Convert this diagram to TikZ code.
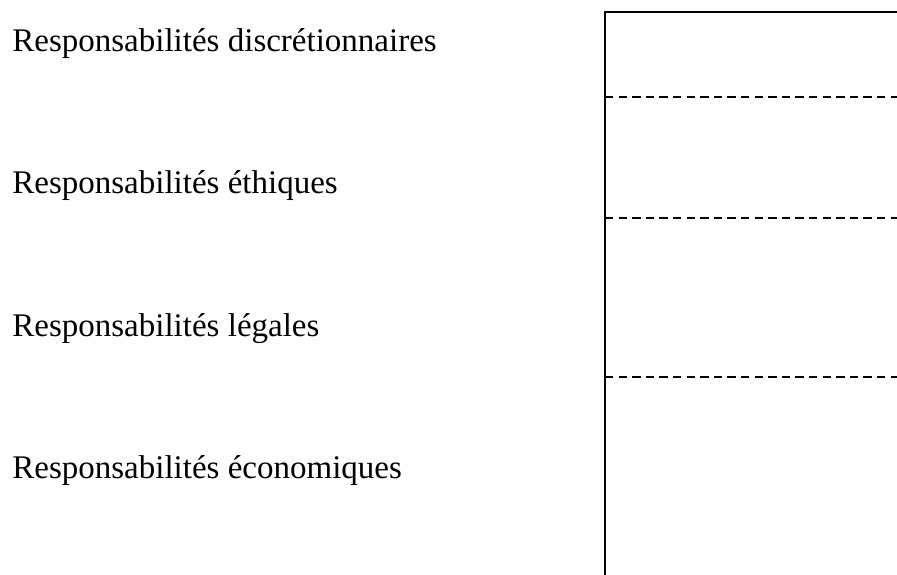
\documentclass[tikz,border=0pt]{standalone}
\usepackage{fontspec}
\setmainfont{Liberation Serif}
\usepackage{tikz}
\usetikzlibrary{positioning}

\begin{document}
\begin{tikzpicture}[
  x=0.5pt, y=-0.5pt,
  resp/.style={anchor=base west, inner sep=0pt, font=\fontsize{16.5}{19}\selectfont},
  frame/.style={line width=1.3pt, black},
  level/.style={line width=1.1pt, dash pattern=on 4.2pt off 2.6pt, black}
]
\useasboundingbox (0,0) rectangle (897,574);

% Labels
\node[resp] (discr) at (12,51) {Responsabilités discrétionnaires};
\node[resp] (ethiq) at (12,193) {Responsabilités éthiques};
\node[resp] (legal) at (12,336) {Responsabilités légales};
\node[resp] (econ) at (12,478) {Responsabilités économiques};

% Pyramid frame
\draw[frame] (605,580) -- (605,12) -- (900,12);

% Level separators
\draw[level] (605,97) -- (900,97);
\draw[level, line width=0.8pt] (605,218) -- (900,218);
\draw[level] (605,377) -- (900,377);

\end{tikzpicture}
\end{document}
